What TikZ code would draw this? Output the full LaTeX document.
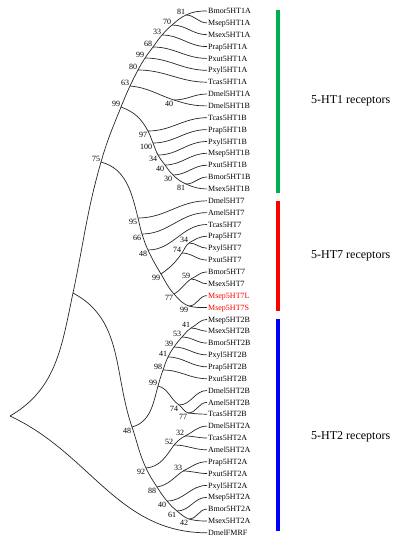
\documentclass[tikz,border=0pt]{standalone}
\usepackage{fontspec}
\setmainfont{Liberation Serif}
\definecolor{greenbar}{RGB}{0,176,80}
\definecolor{redbar}{RGB}{255,0,0}
\definecolor{bluebar}{RGB}{0,0,255}
\begin{document}
\begin{tikzpicture}[x=1pt, y=-1pt,
    taxon/.style={anchor=west, inner sep=1pt, text height=5.3pt, text depth=0pt, font=\fontsize{8}{9}\selectfont},
    bsup/.style={anchor=south east, inner sep=0.6pt, font=\fontsize{8}{9}\selectfont},
    bsdown/.style={anchor=north east, inner sep=0.6pt, font=\fontsize{8}{9}\selectfont},
    branch/.style={draw=black!85, line width=0.7pt},
    leaf/.style={out=0, in=180},
    groupbar/.style={line width=3.5pt},
    grouplabel/.style={anchor=west, inner sep=0pt, font=\fontsize{12}{14}\selectfont}]
  \useasboundingbox (0,0) rectangle (394,550);

  % Tips, 5-HT1
  \node[taxon] (Bmor1A) at (207,11.0) {Bmor5HT1A}; \node[taxon] (Msep1A) at (207,22.9) {Msep5HT1A};
  \node[taxon] (Msex1A) at (207,34.7) {Msex5HT1A}; \node[taxon] (Prap1A) at (207,46.6) {Prap5HT1A};
  \node[taxon] (Pxut1A) at (207,58.4) {Pxut5HT1A}; \node[taxon] (Pxyl1A) at (207,70.3) {Pxyl5HT1A};
  \node[taxon] (Tcas1A) at (207,82.2) {Tcas5HT1A}; \node[taxon] (Dmel1A) at (207,94.0) {Dmel5HT1A};
  \node[taxon] (Dmel1B) at (207,105.9) {Dmel5HT1B}; \node[taxon] (Tcas1B) at (207,117.7) {Tcas5HT1B};
  \node[taxon] (Prap1B) at (207,129.6) {Prap5HT1B}; \node[taxon] (Pxyl1B) at (207,141.5) {Pxyl5HT1B};
  \node[taxon] (Msep1B) at (207,153.3) {Msep5HT1B}; \node[taxon] (Pxut1B) at (207,165.2) {Pxut5HT1B};
  \node[taxon] (Bmor1B) at (207,177.0) {Bmor5HT1B}; \node[taxon] (Msex1B) at (207,188.9) {Msex5HT1B};
  % Tips, 5-HT7
  \node[taxon] (Dmel7) at (207,200.8) {Dmel5HT7}; \node[taxon] (Amel7) at (207,212.6) {Amel5HT7};
  \node[taxon] (Tcas7) at (207,224.5) {Tcas5HT7}; \node[taxon] (Prap7) at (207,236.3) {Prap5HT7};
  \node[taxon] (Pxyl7) at (207,248.2) {Pxyl5HT7}; \node[taxon] (Pxut7) at (207,260.1) {Pxut5HT7};
  \node[taxon] (Bmor7) at (207,271.9) {Bmor5HT7}; \node[taxon] (Msex7) at (207,283.8) {Msex5HT7};
  \node[taxon, text=redbar] (Msep7L) at (207,295.6) {Msep5HT7L};
  \node[taxon, text=redbar] (Msep7S) at (207,307.5) {Msep5HT7S};
  % Tips, 5-HT2
  \node[taxon] (Msep2B) at (207,319.4) {Msep5HT2B}; \node[taxon] (Msex2B) at (207,331.2) {Msex5HT2B};
  \node[taxon] (Bmor2B) at (207,343.1) {Bmor5HT2B}; \node[taxon] (Pxyl2B) at (207,354.9) {Pxyl5HT2B};
  \node[taxon] (Prap2B) at (207,366.8) {Prap5HT2B}; \node[taxon] (Pxut2B) at (207,378.7) {Pxut5HT2B};
  \node[taxon] (Dmel2B) at (207,390.5) {Dmel5HT2B}; \node[taxon] (Amel2B) at (207,402.4) {Amel5HT2B};
  \node[taxon] (Tcas2B) at (207,414.2) {Tcas5HT2B}; \node[taxon] (Dmel2A) at (207,426.1) {Dmel5HT2A};
  \node[taxon] (Tcas2A) at (207,438.0) {Tcas5HT2A}; \node[taxon] (Amel2A) at (207,449.8) {Amel5HT2A};
  \node[taxon] (Prap2A) at (207,461.7) {Prap5HT2A}; \node[taxon] (Pxut2A) at (207,473.5) {Pxut5HT2A};
  \node[taxon] (Pxyl2A) at (207,485.4) {Pxyl5HT2A}; \node[taxon] (Msep2A) at (207,497.3) {Msep5HT2A};
  \node[taxon] (Bmor2A) at (207,509.1) {Bmor5HT2A}; \node[taxon] (Msex2A) at (207,521.0) {Msex5HT2A};
  \node[taxon] (DmelFMRF) at (207,532.8) {DmelFMRF};

  % Inner nodes
  \coordinate (root) at (10,416); \coordinate (ing) at (73,293); \coordinate (c75) at (101,162);
  \coordinate (ht1) at (121,107);
  \coordinate (a63) at (130,86); \coordinate (a80) at (138,70); \coordinate (a99) at (145,58);
  \coordinate (a68) at (153,47); \coordinate (a33) at (162,35); \coordinate (a70) at (172,25);
  \coordinate (a81) at (186,15); \coordinate (d40) at (174,100);
  \coordinate (b97) at (148,131); \coordinate (b100) at (153,143); \coordinate (b34) at (158,155);
  \coordinate (b40) at (165,165); \coordinate (b30) at (173,175); \coordinate (b81) at (186,184);
  \coordinate (s95) at (138,218); \coordinate (s66) at (142,234); \coordinate (s48) at (148,250);
  \coordinate (s99) at (161,274); \coordinate (s74) at (182,253); \coordinate (s34) at (189,243);
  \coordinate (s77) at (174,294); \coordinate (s59) at (191,279); \coordinate (s99m) at (189,306);
  \coordinate (t48) at (132,427); \coordinate (t99) at (158,386); \coordinate (t98) at (163,370);
  \coordinate (t41) at (168,357); \coordinate (t39) at (174,347); \coordinate (t53) at (182,337);
  \coordinate (t41m) at (191,328); \coordinate (t74) at (179,405); \coordinate (t77) at (188,413);
  \coordinate (t92) at (146,468); \coordinate (t52) at (174,445); \coordinate (t32) at (185,436);
  \coordinate (t88) at (157,487); \coordinate (t33) at (183,471); \coordinate (t40) at (167,501);
  \coordinate (t61) at (177,511); \coordinate (t42) at (189,519);

  % Bootstrap values
  \node[bsup] (l75) at (c75) {75}; \node[bsup] (lht1) at (ht1) {99};
  \node[bsup] (la63) at (a63) {63}; \node[bsup] (la80) at (a80) {80}; \node[bsup] (la99) at (a99) {99};
  \node[bsup] (la68) at (a68) {68}; \node[bsup] (la33) at (a33) {33}; \node[bsup] (la70) at (a70) {70};
  \node[bsup] (la81) at (a81) {81}; \node[bsdown] (ld40) at (d40) {40};
  \node[bsdown] (lb97) at (b97) {97}; \node[bsdown] (lb100) at (b100) {100}; \node[bsdown] (lb34) at (b34) {34};
  \node[bsdown] (lb40) at (b40) {40}; \node[bsdown] (lb30) at (b30) {30}; \node[bsdown] (lb81) at (b81) {81};
  \node[bsdown] (ls95) at (s95) {95}; \node[bsdown] (ls66) at (s66) {66}; \node[bsdown] (ls48) at (s48) {48};
  \node[bsdown] (ls99) at (s99) {99}; \node[bsup] (ls74) at (s74) {74}; \node[bsup] (ls34) at (s34) {34};
  \node[bsdown] (ls77) at (s77) {77}; \node[bsup] (ls59) at (s59) {59}; \node[bsdown] (ls99m) at (s99m) {99};
  \node[bsdown] (lt48) at (t48) {48}; \node[bsup] (lt99) at (t99) {99}; \node[bsup] (lt98) at (t98) {98};
  \node[bsup] (lt41) at (t41) {41}; \node[bsup] (lt39) at (t39) {39}; \node[bsup] (lt53) at (t53) {53};
  \node[bsup] (lt41m) at (t41m) {41}; \node[bsdown] (lt74) at (t74) {74}; \node[bsdown] (lt77) at (t77) {77};
  \node[bsdown] (lt92) at (t92) {92}; \node[bsup] (lt52) at (t52) {52}; \node[bsup] (lt32) at (t32) {32};
  \node[bsdown] (lt88) at (t88) {88}; \node[bsup] (lt33) at (t33) {33}; \node[bsdown] (lt40) at (t40) {40};
  \node[bsdown] (lt61) at (t61) {61}; \node[bsdown] (lt42) at (t42) {42};

  % Backbone up to the 5-HT1A tips
  \draw[branch] (root) to[out=30,in=-102] (ing) to[out=78,in=-106] (c75)
    to[out=74,in=-112] (ht1) to[out=68,in=-115] (a63) to[out=65,in=-118] (a80)
    to[out=62,in=-123] (a99) to[out=57,in=-126] (a68) to[out=53,in=-131] (a33)
    to[out=49,in=-140] (a70) to[out=40,in=-155] (a81) to[out=25,in=180] (Bmor1A);
  \draw[branch] (a81) to[leaf] (Msep1A) (a70) to[leaf] (Msex1A) (a33) to[leaf] (Prap1A)
    (a68) to[leaf] (Pxut1A) (a99) to[leaf] (Pxyl1A) (a80) to[leaf] (Tcas1A);
  \draw[branch] (a63) to[out=-5,in=162] (d40) to[out=-18,in=180] (Dmel1B);
  \draw[branch] (d40) to[leaf] (Dmel1A);

  % 5-HT1B
  \draw[branch] (ht1) to[out=-20,in=118] (b97) to[out=-62,in=113] (b100)
    to[out=-67,in=119] (b34) to[out=-61,in=127] (b40) to[out=-53,in=137] (b30)
    to[out=-43,in=156] (b81) to[out=-24,in=180] (Msex1B);
  \draw[branch] (b97) to[leaf] (Tcas1B) (b100) to[leaf] (Prap1B) (b34) to[leaf] (Pxyl1B)
    (b40) to[leaf] (Msep1B) (b30) to[leaf] (Pxut1B) (b81) to[leaf] (Bmor1B);

  % 5-HT7
  \draw[branch] (c75) to[out=-15,in=104] (s95) to[out=-76,in=107] (s66)
    to[out=-72,in=115] (s48) to[out=-65,in=121] (s99) to[out=-59,in=132] (s77)
    to[out=-48,in=160] (s99m) to[out=-15,in=180] (Msep7S);
  \draw[branch] (s95) to[leaf] (Dmel7) (s66) to[leaf] (Amel7) (s48) to[leaf] (Tcas7);
  \draw[branch] (s99) to[out=35,in=-125] (s74) to[out=55,in=-143] (s34) to[out=30,in=180] (Prap7);
  \draw[branch] (s34) to[leaf] (Pxyl7) (s74) to[leaf] (Pxut7);
  \draw[branch] (s77) to[out=30,in=-145] (s59) to[out=25,in=180] (Bmor7);
  \draw[branch] (s59) to[leaf] (Msex7) (s99m) to[leaf] (Msep7L);

  % 5-HT2A
  \draw[branch] (ing) to[out=-28,in=109] (t48) to[out=-71,in=115] (t92)
    to[out=-65,in=123] (t88) to[out=-57,in=130] (t40) to[out=-50,in=141] (t61)
    to[out=-39,in=160] (t42) to[out=-15,in=180] (Msex2A);
  \draw[branch] (t42) to[leaf] (Bmor2A) (t61) to[leaf] (Msep2A) (t40) to[leaf] (Pxyl2A);
  \draw[branch] (t88) to[out=10,in=-145] (t33) to[out=25,in=180] (Prap2A);
  \draw[branch] (t33) to[leaf] (Pxut2A);
  \draw[branch] (t92) to[out=5,in=-125] (t52) to[out=50,in=-149] (t32) to[out=25,in=180] (Dmel2A);
  \draw[branch] (t32) to[leaf] (Tcas2A) (t52) to[leaf] (Amel2A);

  % 5-HT2B
  \draw[branch] (t48) to[out=15,in=-105] (t99) to[out=74,in=-110] (t98)
    to[out=70,in=-116] (t41) to[out=64,in=-125] (t39) to[out=55,in=-132] (t53)
    to[out=48,in=-144] (t41m) to[out=27,in=180] (Msep2B);
  \draw[branch] (t41m) to[leaf] (Msex2B) (t53) to[leaf] (Bmor2B) (t39) to[leaf] (Pxyl2B)
    (t41) to[leaf] (Prap2B) (t98) to[leaf] (Pxut2B);
  \draw[branch] (t99) to[out=-15,in=145] (t74) to[out=-35,in=160] (t77) to[out=-5,in=180] (Tcas2B);
  \draw[branch] (t74) to[leaf] (Dmel2B) (t77) to[leaf] (Amel2B);

  % Outgroup
  \draw[branch] (root) to[out=-25,in=180] (DmelFMRF);

  % Receptor groups
  \draw[groupbar, greenbar] (278,10) -- (278,193);
  \draw[groupbar, redbar] (278,201) -- (278,311);
  \draw[groupbar, bluebar] (278,319) -- (278,531);
  \node[grouplabel] (ht1lab) at (311,101) {5-HT1 receptors};
  \node[grouplabel] (ht7lab) at (311,256) {5-HT7 receptors};
  \node[grouplabel] (ht2lab) at (311,437) {5-HT2 receptors};
\end{tikzpicture}
\end{document}
